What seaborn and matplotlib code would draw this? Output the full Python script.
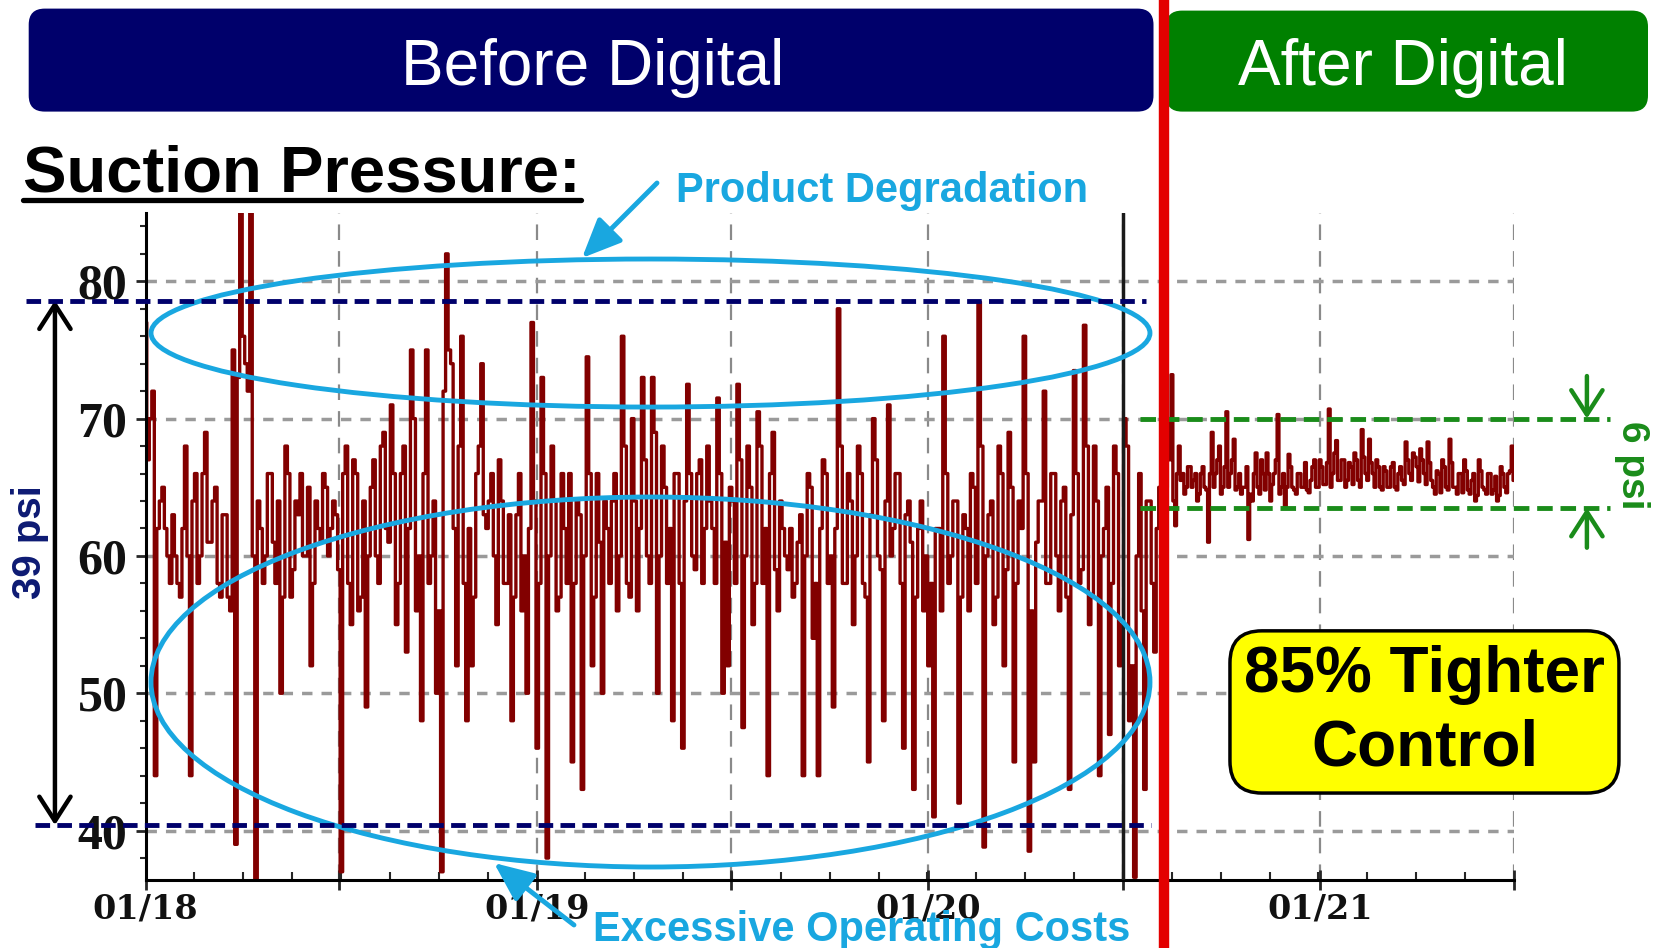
import numpy as np
import pandas as pd
import matplotlib
matplotlib.use("Agg")
import matplotlib.pyplot as plt
import matplotlib.dates as mdates
import seaborn as sns
from matplotlib.patches import FancyBboxPatch, Ellipse
from matplotlib.lines import Line2D
from matplotlib.ticker import MultipleLocator, FixedLocator
from matplotlib.transforms import IdentityTransform

# suction pressure (psi) read off the trend before the digital go-live:
# swing readings (peaks / dips) ...
before_swing = [
    77, 70, 44, 64, 62, 58, 60, 57, 68, 44,
    66, 60, 69, 61, 65, 57, 63, 56, 39, 86, 74, 86, 36, 62, 60,
    66, 58, 50, 68, 57, 64, 66, 60, 52, 64, 61, 65, 62, 63,
    37, 68, 55, 66, 57, 49, 65, 60, 68, 62, 71, 55, 66, 53,
    75, 56, 48, 75, 60, 50, 37, 82, 74, 52, 76, 48, 52, 66, 74,
    62, 66, 55, 64, 58, 48, 63, 56, 50, 77,
    46, 73, 38, 68, 56, 66, 58, 45, 64, 43,
    74.5, 52, 66, 50, 62, 64, 56, 76, 58, 70,
    56, 73, 60, 73, 50, 68, 58, 48, 66, 46,
    72.5, 60, 66, 58, 68, 62, 71.5, 50, 52, 64,
    72.5, 47.5, 68, 55, 70.5, 58, 44, 69, 56, 62,
    59, 57, 61, 44, 66, 54, 44, 67, 58,
    49, 78, 58, 66, 55, 68, 58, 45, 70, 60,
    48, 71, 62, 66, 46, 64, 43, 62, 56, 52,
    41, 62, 76, 58, 64, 42, 63, 56, 65, 78.5,
    38.8, 63, 55, 68, 52, 69, 45, 64, 76, 38.5,
    45, 64, 72, 58, 66, 56, 65, 43, 73.5, 58,
    76.8, 55, 68, 44, 62, 47, 68, 52, 70, 48,
    36.6, 66, 43, 64, 53, 65,
]
# ... and the dense core band readings in between
before_core = [
    67, 72, 62, 65, 60, 63, 58, 62, 60, 64,
    58, 66, 61, 64, 58, 63, 57, 75, 73, 76, 72, 60, 64, 58, 66,
    61, 64, 57, 66, 59, 63, 60, 65, 58, 62, 66, 60, 64, 59,
    66, 58, 67, 56, 64, 60, 67, 58, 69, 61, 66, 58, 68, 62,
    70, 60, 66, 58, 64, 56, 72, 75, 62, 68, 58, 62, 57, 68, 63,
    64, 60, 67, 58, 63, 57, 66, 60, 62, 64,
    58, 66, 60, 64, 57, 62, 66, 58, 63, 60,
    66, 57, 61, 64, 58, 66, 60, 68, 57, 64,
    62, 67, 58, 69, 60, 65, 62, 66, 58, 64,
    66, 59, 67, 62, 64, 58, 66, 61, 65, 58,
    67, 60, 65, 58, 68, 62, 66, 59, 64, 60,
    62, 58, 63, 60, 65, 58, 62, 66, 60,
    62, 68, 58, 64, 60, 66, 57, 63, 67, 59,
    64, 60, 66, 58, 63, 61, 57, 64, 60, 58,
    62, 56, 66, 60, 64, 57, 62, 66, 58, 68,
    60, 64, 57, 66, 59, 65, 58, 62, 66, 56,
    61, 64, 58, 66, 60, 64, 57, 63, 66, 59,
    68, 57, 64, 60, 65, 58, 66, 55, 68, 52,
    60, 56, 64, 58, 62, 63,
]

# suction pressure (psi) after the digital go-live
after_swing = [
    66, 70, 73.2, 62.2, 68, 66, 65, 66.5, 65.5, 64,
    66, 65, 61.0, 69, 66, 68, 65, 70.5, 66, 68.5,
    65, 64.5, 65, 61.2, 64, 67.5, 64.5, 66, 67.5, 64,
    66, 70.3, 65, 63.5, 67.4, 65, 64.5, 66, 65, 64.8,
    65.5, 67, 65, 66.5, 65.2, 70.7, 66, 68.4, 65.5, 67,
    65.5, 66.5, 67.5, 65.5, 69.2, 66, 68.5, 66, 67, 65,
    66.5, 65, 66.5, 65, 66, 65.5, 68.3, 66, 67.5, 66.5,
    67.8, 66, 68.3, 65.5, 64.5, 66, 67, 65, 68.5, 65,
    64.5, 66, 67, 64.8, 65.5, 64, 67, 65, 64.5, 66,
    64.8, 64, 66.5, 65, 66, 68,
]
after_core = [
    65, 67, 64, 66, 65.5, 64.5, 66.5, 65, 66, 64.5,
    66.5, 64.8, 66, 65, 67, 64.5, 66.5, 65, 67, 64.8,
    66, 65, 66.5, 64.5, 66, 65, 67, 64.8, 66, 65.2,
    67, 64.5, 66, 65, 66.5, 64.8, 66, 65, 66.8, 64.6,
    66.5, 65, 67, 65.2, 66.8, 65, 67.5, 65.5, 67, 65,
    66.8, 65.2, 67, 65, 67.2, 65.5, 66.8, 65, 66.5, 64.8,
    66.2, 65, 66.8, 64.8, 66.5, 65.2, 67, 65.5, 67.2, 65.4,
    67, 65.2, 66.8, 65, 66.2, 64.6, 66.5, 64.8, 66.8, 65,
    66, 64.6, 66.2, 64.5, 66, 64.4, 66.2, 64.8, 66, 64.5,
    65.8, 64.4, 66, 64.6, 66.2, 65.5,
]

x_start = pd.Timestamp("2018-01-01")
x_end = pd.Timestamp("2021-07-01")
marker_date = pd.Timestamp("2020-07-01")
go_live = pd.Timestamp("2020-08-08")

before_band = (40.4, 78.6)   # "39 psi" spread
after_band = (63.5, 70.0)    # "6 psi" spread
y_ticks = [40, 50, 60, 70, 80]

# alternate swing and core readings along time
before_psi = [v for pair in zip(before_swing, before_core) for v in pair]
after_psi = [v for pair in zip(after_swing, after_core) for v in pair]
before_dates = pd.date_range(x_start, "2020-08-07", periods=len(before_psi))
after_dates = pd.date_range("2020-08-09", x_end, periods=len(after_psi))

df = pd.DataFrame({
    "date": list(before_dates) + list(after_dates),
    "psi": before_psi + after_psi,
})

sns.set_theme(style="white")
plt.rcParams["font.family"] = ["Liberation Sans", "DejaVu Sans"]

navy = "#00006b"
cyan = "#19a7e0"
green = "#1a8c1a"

fig = plt.figure(figsize=(16.67, 9.48), dpi=100)
ax = fig.add_axes([0.0873, 0.0717, 0.8209, 0.704])
ax.set_zorder(3)
ax.patch.set_alpha(0)

sns.lineplot(data=df, x="date", y="psi", ax=ax, color="#820000", lw=2.4,
             drawstyle="steps-mid", estimator=None)

ax.set_xlim(x_start, x_end)
ax.set_ylim(36.4, 85)
ax.set_xlabel("")
ax.set_ylabel("")

# ticks
major_dates = pd.date_range(x_start, x_end, freq="6MS")
ax.set_xticks(major_dates)
ax.set_xticklabels([d.strftime("%m/%y") if d.month == 1 else "" for d in major_dates],
                   fontfamily="DejaVu Serif", fontweight="bold", fontsize=24)
ax.xaxis.set_minor_locator(FixedLocator(
    np.linspace(mdates.date2num(x_start), mdates.date2num(x_end), 29)))
ax.set_yticks(y_ticks)
ax.set_yticklabels([str(t) for t in y_ticks], fontfamily="Liberation Serif",
                   fontweight="bold", fontsize=36)
ax.yaxis.set_minor_locator(MultipleLocator(2))
ax.tick_params(axis="y", which="major", direction="out", length=7, width=2, pad=6,
               left=True, labelcolor="#111111")
ax.tick_params(axis="y", which="minor", direction="out", length=4, width=1.5, left=True)
ax.tick_params(axis="x", which="major", direction="inout", length=14, width=2, pad=2,
               bottom=True, labelcolor="#111111")
ax.tick_params(axis="x", which="minor", direction="in", length=6, width=1.5, bottom=True)

for side in ["top", "right"]:
    ax.spines[side].set_visible(False)
for side in ["left", "bottom"]:
    ax.spines[side].set_color("black")
    ax.spines[side].set_linewidth(2.2)

ax.set_axisbelow(True)
ax.yaxis.grid(True, color="#9a9a9a", lw=2.5, linestyle=(0, (3, 2.6)))
ax.xaxis.grid(True, color="#8a8a8a", lw=1.6, linestyle=(0, (7, 5)))

# marker line and go-live line
ax.axvline(marker_date, color="#1a1a1a", lw=2.5, zorder=4)
ax.axvline(go_live, ymin=-0.11, ymax=1.33, color="#e30000", lw=7.5,
           clip_on=False, zorder=10)

# spread lines
ytr = ax.get_yaxis_transform()
ax.plot([-0.087, 0.731], [before_band[1]] * 2, transform=ytr, color=navy, lw=3.5,
        linestyle=(0, (3, 1.5)), clip_on=False, zorder=7)
ax.plot([-0.081, 0.735], [before_band[0]] * 2, transform=ytr, color=navy, lw=3.5,
        linestyle=(0, (3, 1.5)), clip_on=False, zorder=7)
for lvl in after_band:
    ax.plot([0.727, 1.07], [lvl] * 2, transform=ytr, color=green, lw=3.5,
            linestyle=(0, (3.2, 1.6)), clip_on=False, zorder=7)

ax.annotate("", xy=(-0.0662, before_band[1]), xycoords=ytr,
            xytext=(-0.0662, before_band[0]), textcoords=ytr,
            arrowprops=dict(arrowstyle="<->,head_length=0.7,head_width=0.45",
                            color="black", lw=3.2, mutation_scale=25,
                            shrinkA=0, shrinkB=0))
ax.annotate("", xy=(1.0533, after_band[1]), xycoords=ytr,
            xytext=(1.0533, 73.1), textcoords=ytr,
            arrowprops=dict(arrowstyle="->,head_length=0.7,head_width=0.45",
                            color=green, lw=3.2, mutation_scale=25,
                            shrinkA=0, shrinkB=0))
ax.annotate("", xy=(1.0533, after_band[0]), xycoords=ytr,
            xytext=(1.0533, 60.6), textcoords=ytr,
            arrowprops=dict(arrowstyle="->,head_length=0.7,head_width=0.45",
                            color=green, lw=3.2, mutation_scale=25,
                            shrinkA=0, shrinkB=0))

# ellipses around the swings
ax.add_patch(Ellipse((0.369, 0.8196), 0.730, 0.2218, transform=ax.transAxes,
                     fill=False, ec=cyan, lw=3.5, clip_on=False, zorder=6))
ax.add_patch(Ellipse((0.369, 0.2967), 0.730, 0.5544, transform=ax.transAxes,
                     fill=False, ec=cyan, lw=3.5, clip_on=False, zorder=6))

ax.annotate("", xy=(582, 690), xycoords="figure pixels",
            xytext=(657, 765), textcoords="figure pixels",
            arrowprops=dict(arrowstyle="-|>,head_length=0.8,head_width=0.35",
                            color=cyan, lw=3.5, mutation_scale=30,
                            shrinkA=0, shrinkB=0))
ax.annotate("", xy=(494, 85), xycoords="figure pixels",
            xytext=(574, 23), textcoords="figure pixels",
            arrowprops=dict(arrowstyle="-|>,head_length=0.8,head_width=0.35",
                            color=cyan, lw=3.5, mutation_scale=30,
                            shrinkA=0, shrinkB=0))

# header banners
fig.add_artist(FancyBboxPatch((28.7, 836.4), 1124.8, 103,
                              boxstyle="round,pad=0,rounding_size=16",
                              transform=IdentityTransform(), fc=navy, ec="none", zorder=1))
fig.add_artist(FancyBboxPatch((1166, 836.4), 482, 101,
                              boxstyle="round,pad=0,rounding_size=16",
                              transform=IdentityTransform(), fc="#008000", ec="none", zorder=1))
fig.text(0.3557, 0.9103, "Before Digital", color="white", fontsize=46,
         ha="center", va="baseline", zorder=10)
fig.text(0.8416, 0.9103, "After Digital", color="white", fontsize=46,
         ha="center", va="baseline", zorder=10)

title = fig.text(0.014, 0.798, "Suction Pressure:", color="black", fontsize=47,
                 fontweight="bold", ha="left", va="baseline", zorder=10)
fig.canvas.draw()
bb = title.get_window_extent()
fig.add_artist(Line2D([bb.x0, bb.x1], [748, 748], transform=IdentityTransform(),
                      color="black", lw=3.8, zorder=10))

fig.text(0.529, 0.787, "Product Degradation", color=cyan, fontsize=30,
         fontweight="bold", ha="center", va="baseline", zorder=10)
fig.text(0.517, 0.0074, "Excessive Operating Costs", color=cyan, fontsize=30,
         fontweight="bold", ha="center", va="baseline", zorder=10)

fig.text(0.018, 0.4283, "39 psi", color="#0d1a73", fontsize=29, fontweight="bold",
         rotation=90, ha="center", va="center", zorder=10)
fig.text(0.979, 0.5095, "6 psi", color=green, fontsize=28, fontweight="bold",
         rotation=270, ha="center", va="center", zorder=10)

fig.text(0.8545, 0.249, "85% Tighter\nControl", color="black", fontsize=46,
         fontweight="bold", ha="center", va="center", multialignment="center",
         linespacing=1.3, zorder=12,
         bbox=dict(boxstyle="round,pad=0.22,rounding_size=0.5", fc="#ffff00",
                   ec="black", lw=2.5))

fig.savefig("out.png", dpi=100)
